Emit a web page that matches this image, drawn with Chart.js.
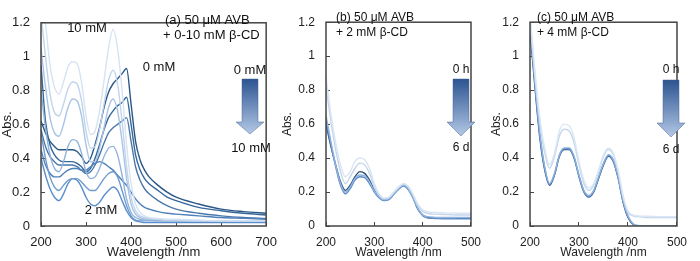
<!DOCTYPE html>
<html>
<head>
<meta charset="utf-8">
<script src="https://cdn.jsdelivr.net/npm/chart.js@4.4.0/dist/chart.umd.min.js"></script>
<style>
body{margin:0;background:#fff;width:700px;height:261px;position:relative;overflow:hidden}
canvas{position:absolute;top:0}
</style>
</head>
<body>
<canvas id="chartA" width="290" height="261" style="left:0px"></canvas>
<canvas id="chartB" width="214" height="261" style="left:280px"></canvas>
<canvas id="chartC" width="211" height="261" style="left:489px"></canvas>
<script>
// (a) 50 uM AVB + 0-10 mM b-CD
var wlA = [200,210,220,230,240,250,260,270,280,290,300,310,320,330,340,350,360,370,380,390,400,410,420,430,440,460,480,500,550,600,650,700];
var concA = ['0 mM','0.5 mM','1 mM','1.5 mM','2 mM','3 mM','4 mM','6 mM','8 mM','10 mM'];
var absA0 = [0.62,0.55,0.50,0.47,0.45,0.45,0.45,0.45,0.44,0.41,0.37,0.40,0.48,0.58,0.70,0.79,0.84,0.87,0.90,0.93,0.72,0.50,0.39,0.33,0.29,0.24,0.20,0.17,0.13,0.10,0.085,0.075];
var absA1 = [0.95,0.62,0.48,0.42,0.39,0.38,0.38,0.38,0.37,0.35,0.32,0.34,0.40,0.48,0.57,0.64,0.68,0.71,0.73,0.76,0.60,0.42,0.33,0.28,0.25,0.21,0.17,0.15,0.11,0.09,0.075,0.065];
var absA2 = [0.57,0.47,0.41,0.38,0.36,0.36,0.36,0.36,0.35,0.33,0.31,0.32,0.36,0.42,0.49,0.55,0.58,0.60,0.62,0.64,0.50,0.35,0.27,0.22,0.19,0.15,0.12,0.10,0.075,0.06,0.05,0.045];
var absA3 = [0.45,0.36,0.31,0.29,0.29,0.31,0.33,0.34,0.34,0.33,0.33,0.35,0.37,0.38,0.37,0.35,0.33,0.30,0.27,0.24,0.20,0.16,0.13,0.11,0.10,0.085,0.075,0.07,0.06,0.05,0.045,0.04];
var absA4 = [0.40,0.30,0.22,0.17,0.15,0.19,0.25,0.28,0.27,0.23,0.17,0.13,0.12,0.14,0.18,0.21,0.23,0.21,0.15,0.09,0.05,0.03,0.025,0.02,0.02,0.02,0.02,0.02,0.02,0.02,0.02,0.02];
var absA5 = [0.55,0.40,0.29,0.23,0.21,0.24,0.27,0.28,0.28,0.26,0.23,0.21,0.21,0.24,0.28,0.31,0.32,0.29,0.21,0.12,0.06,0.035,0.03,0.03,0.03,0.03,0.03,0.03,0.03,0.03,0.03,0.03];
var absA6 = [0.80,0.58,0.42,0.34,0.32,0.38,0.47,0.51,0.50,0.43,0.32,0.28,0.29,0.34,0.41,0.46,0.47,0.42,0.30,0.16,0.08,0.05,0.04,0.035,0.035,0.03,0.03,0.03,0.03,0.03,0.03,0.03];
var absA7 = [1.05,0.82,0.64,0.55,0.53,0.60,0.70,0.75,0.74,0.65,0.48,0.38,0.38,0.46,0.58,0.70,0.75,0.68,0.50,0.28,0.13,0.07,0.05,0.045,0.04,0.04,0.035,0.035,0.03,0.03,0.03,0.03];
var absA8 = [1.25,1.00,0.78,0.67,0.65,0.72,0.81,0.85,0.84,0.74,0.56,0.46,0.47,0.57,0.72,0.86,0.92,0.84,0.62,0.35,0.17,0.09,0.06,0.05,0.045,0.04,0.035,0.035,0.03,0.03,0.03,0.03];
var absA9 = [1.45,1.20,0.95,0.82,0.78,0.85,0.94,0.97,0.96,0.85,0.65,0.54,0.56,0.68,0.86,1.05,1.16,1.05,0.80,0.48,0.25,0.13,0.08,0.06,0.05,0.045,0.04,0.04,0.035,0.03,0.03,0.03];

// (b) 50 uM AVB + 2 mM b-CD, 0 h .. 6 d
var wlB = [200,210,220,230,240,250,260,270,280,290,300,310,320,330,340,350,360,370,380,390,400,410,420,430,440,450,460,470,480,490,500];
var absB0 = [0.88,0.66,0.49,0.36,0.29,0.32,0.38,0.40,0.39,0.34,0.25,0.19,0.165,0.17,0.20,0.23,0.25,0.235,0.19,0.13,0.095,0.085,0.08,0.08,0.078,0.077,0.076,0.075,0.075,0.075,0.075];
var absB1 = [0.82,0.62,0.45,0.32,0.25,0.29,0.34,0.37,0.36,0.31,0.23,0.18,0.16,0.165,0.195,0.225,0.245,0.23,0.18,0.12,0.085,0.075,0.07,0.07,0.068,0.067,0.066,0.065,0.065,0.065,0.065];
var absB2 = [0.65,0.50,0.36,0.25,0.20,0.23,0.28,0.30,0.295,0.26,0.205,0.17,0.155,0.16,0.19,0.22,0.24,0.22,0.17,0.105,0.065,0.055,0.052,0.05,0.05,0.05,0.05,0.05,0.05,0.05,0.05];
var absB3 = [0.62,0.48,0.35,0.24,0.19,0.22,0.27,0.29,0.285,0.25,0.20,0.165,0.15,0.155,0.185,0.215,0.235,0.215,0.165,0.10,0.06,0.048,0.045,0.044,0.043,0.043,0.043,0.042,0.042,0.042,0.042];
var absB4 = [0.60,0.47,0.36,0.26,0.21,0.24,0.29,0.32,0.31,0.27,0.21,0.17,0.155,0.16,0.19,0.22,0.24,0.22,0.17,0.10,0.065,0.05,0.047,0.046,0.045,0.045,0.045,0.045,0.045,0.045,0.045];

// (c) 50 uM AVB + 4 mM b-CD, 0 h .. 6 d
var wlC = [200,210,220,230,240,250,260,270,280,290,300,310,320,330,340,350,360,370,380,390,400,410,420,430,440,450,460,470,480,490,500];
var absC0 = [1.25,0.92,0.64,0.46,0.36,0.43,0.56,0.60,0.59,0.52,0.38,0.27,0.225,0.25,0.33,0.42,0.46,0.43,0.33,0.18,0.09,0.065,0.06,0.058,0.057,0.056,0.055,0.055,0.055,0.055,0.055];
var absC1 = [1.22,0.88,0.61,0.43,0.34,0.41,0.53,0.57,0.56,0.49,0.36,0.25,0.21,0.24,0.32,0.41,0.45,0.42,0.32,0.17,0.08,0.06,0.055,0.052,0.05,0.05,0.05,0.05,0.05,0.05,0.05];
var absC2 = [1.20,0.86,0.55,0.35,0.25,0.31,0.42,0.46,0.46,0.41,0.30,0.21,0.18,0.21,0.29,0.37,0.42,0.39,0.29,0.15,0.06,0.015,0.003,0,0,0,0,0,0,0,0];
var absC3 = [1.18,0.84,0.54,0.34,0.245,0.305,0.415,0.455,0.455,0.405,0.295,0.205,0.175,0.205,0.285,0.365,0.415,0.385,0.285,0.145,0.055,0.012,0,0,0,0,0,0,0,0,0];
var absC4 = [1.15,0.82,0.52,0.33,0.24,0.30,0.41,0.45,0.45,0.40,0.29,0.20,0.17,0.20,0.28,0.36,0.41,0.38,0.28,0.14,0.05,0.01,0,0,0,0,0,0,0,0,0];

var yTicks = [0,0.2,0.4,0.6,0.8,1,1.2];
var xTicksA = [200,300,400,500,600,700];
var xTicksBC = [200,300,400,500];

var FONT = '"Liberation Sans", Arial, sans-serif';

function pts(wl, vals){
	return wl.map(function(w,i){ return {x:w, y:vals[i]}; });
}

function ds(wl, vals, color){
	return {data: pts(wl, vals), borderColor: color, borderWidth: 1.4, pointRadius: 0,
		cubicInterpolationMode: 'monotone', fill: false};
}

// text and arrows, in canvas pixels
var notes = {
	chartA: {size: 13, texts: [
		['(a) 50 \u03bcM AVB', 165, 20, 'left'], ['+ 0-10 mM \u03b2-CD', 163, 35, 'left'],
		['10 mM', 87, 28, 'center'], ['0 mM', 159, 67, 'center'], ['2 mM', 101, 210, 'center'],
		['0 mM', 250, 70, 'center'], ['10 mM', 251, 148, 'center']],
		arrow: [250, 79, 122, 134]},
	chartB: {size: 12, texts: [
		['(b) 50 \u03bcM AVB', 56, 18, 'left'], ['+ 2 mM \u03b2-CD', 56, 33, 'left'],
		['0 h', 181, 70, 'center'], ['6 d', 181, 148, 'center']],
		arrow: [181, 79, 122, 136]},
	chartC: {size: 12, texts: [
		['(c) 50 \u03bcM AVB', 48, 18, 'left'], ['+ 4 mM \u03b2-CD', 48, 33, 'left'],
		['0 h', 182, 70, 'center'], ['6 d', 182, 150, 'center']],
		arrow: [182, 80, 123, 137]}
};

var boxPlugin = {
	id: 'box',
	afterDraw: function(chart){
		var ctx = chart.ctx, a = chart.chartArea;
		var n = notes[chart.canvas.id];
		ctx.save();
		ctx.strokeStyle = '#444';
		ctx.lineWidth = 1.5;
		ctx.strokeRect(a.left, a.top, a.right - a.left, a.bottom - a.top);

		// gradient arrow
		var cx = n.arrow[0], y0 = n.arrow[1], yh = n.arrow[2], y1 = n.arrow[3];
		var g = ctx.createLinearGradient(0, y0, 0, y1);
		g.addColorStop(0, '#2c5491');
		g.addColorStop(1, '#b3c8e6');
		ctx.fillStyle = g;
		ctx.beginPath();
		ctx.moveTo(cx - 8, y0); ctx.lineTo(cx + 8, y0); ctx.lineTo(cx + 8, yh);
		ctx.lineTo(cx + 14, yh); ctx.lineTo(cx, y1); ctx.lineTo(cx - 14, yh);
		ctx.lineTo(cx - 8, yh); ctx.closePath();
		ctx.fill();
		ctx.strokeStyle = 'rgba(70,100,150,0.6)';
		ctx.lineWidth = 0.8;
		ctx.stroke();

		ctx.fillStyle = '#111';
		ctx.font = n.size + 'px ' + FONT;
		ctx.textBaseline = 'middle';
		n.texts.forEach(function(t){
			ctx.textAlign = t[3];
			ctx.fillText(t[0], t[1], t[2]);
		});
		ctx.restore();
	}
};

function makeOptions(xMax, xTicks, padRight, yWidth, size){
	return {
		responsive: false,
		animation: false,
		layout: {padding: {top: 6, right: padRight, left: 0, bottom: 0}},
		plugins: {legend: {display: false}, tooltip: {enabled: false}},
		scales: {
			x: {
				type: 'linear', min: 200, max: xMax,
				afterBuildTicks: function(s){ s.ticks = xTicks.map(function(v){ return {value: v}; }); },
				ticks: {color: '#222', font: {family: FONT, size: size}, padding: 13, maxRotation: 0},
				grid: {drawOnChartArea: false, tickLength: -4, color: '#444'},
				border: {display: false},
				title: {display: true, text: 'Wavelength /nm', color: '#222',
					font: {family: FONT, size: size}, padding: {top: 0, bottom: 1}},
				afterFit: function(s){ s.height = 35; }
			},
			y: {
				min: 0, max: 1.2,
				afterBuildTicks: function(s){ s.ticks = yTicks.map(function(v){ return {value: v}; }); },
				ticks: {color: '#222', font: {family: FONT, size: size}, padding: 15,
					callback: function(v){ return String(+v.toFixed(1)); }},
				grid: {drawOnChartArea: false, tickLength: -4, color: '#444'},
				border: {display: false},
				title: {display: true, text: 'Abs.', color: '#222',
					font: {family: FONT, size: size}, padding: 0},
				afterFit: function(s){ s.width = yWidth; }
			}
		}
	};
}

var colorsA = ['#2a5886','#36679a','#4a78aa','#4f80ba','#5b8fcc','#6f9bd0','#92b3dc','#a9c3e4','#c0d4ec','#d6e3f2'];
var seriesA = [absA0,absA1,absA2,absA3,absA4,absA5,absA6,absA7,absA8,absA9];
new Chart(document.getElementById('chartA'), {
	type: 'line',
	data: {datasets: seriesA.map(function(v,i){ var d = ds(wlA, v, colorsA[i]); d.label = concA[i]; return d; }).reverse()},
	options: makeOptions(700, xTicksA, 14, 41, 13),
	plugins: [boxPlugin]
});

var colorsB = ['#dae5f3','#c3d5ec','#8fb3de','#5b8bc6','#2d4f7a'];
new Chart(document.getElementById('chartB'), {
	type: 'line',
	data: {datasets: [absB0,absB1,absB2,absB3,absB4].map(function(v,i){ return ds(wlB, v, colorsB[i]); })},
	options: makeOptions(500, xTicksBC, 12, 46, 12),
	plugins: [boxPlugin]
});

var colorsC = ['#dce7f4','#c4d6ed','#8db1dd','#5d8cc6','#2e5687'];
new Chart(document.getElementById('chartC'), {
	type: 'line',
	data: {datasets: [absC0,absC1,absC2,absC3,absC4].map(function(v,i){ return ds(wlC, v, colorsC[i]); })},
	options: makeOptions(500, xTicksBC, 10, 41, 12),
	plugins: [boxPlugin]
});
</script>
</body>
</html>
